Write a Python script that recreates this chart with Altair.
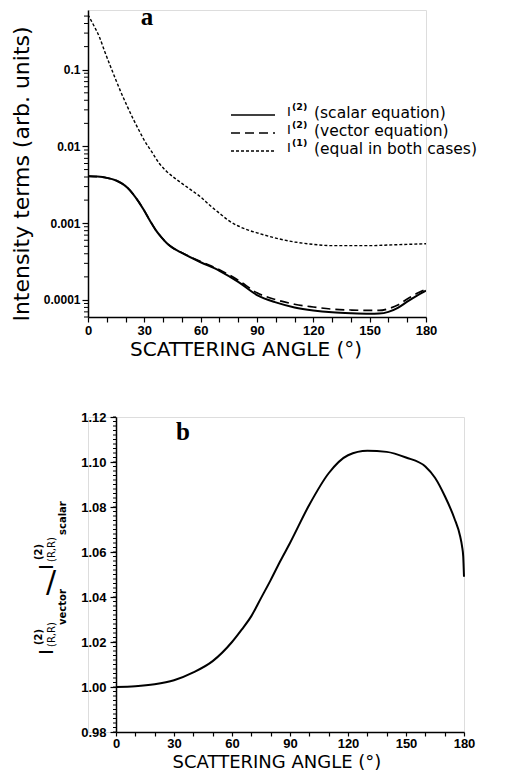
import altair as alt
import pandas as pd

# ---------------- data ----------------
# panel a : I(1) (dotted)
i1_angle = [0, 3, 6, 9, 12, 15, 18, 21, 24, 27, 30, 34, 38, 42, 46, 50, 55, 60, 65, 70,
            75, 80, 85, 90, 100, 110, 120, 130, 140, 150, 160, 170, 180]
i1_val = [0.52, 0.38, 0.27, 0.17, 0.11, 0.072, 0.048, 0.033, 0.023, 0.0165, 0.012, 0.0085,
          0.006, 0.0047, 0.0039, 0.0033, 0.0027, 0.0022, 0.0017, 0.00135, 0.00108, 0.00092,
          0.00082, 0.00075, 0.00064, 0.00057, 0.00053, 0.00051, 0.00051, 0.00051, 0.00052,
          0.00053, 0.00054]

# panel a : I(2) scalar equation (solid)
sc_angle = [0, 5, 10, 15, 18, 21, 24, 27, 30, 33, 36, 39, 42, 45, 50, 60, 70, 80, 90, 100,
            110, 120, 130, 140, 150, 155, 160, 165, 170, 175, 180]
sc_val = [0.0041, 0.00405, 0.0039, 0.0036, 0.0033, 0.0029, 0.0024, 0.0019, 0.00145, 0.00108,
          0.00082, 0.00066, 0.00055, 0.00048, 0.00041, 0.00031, 0.00024, 0.000172, 0.000116,
          0.000093, 0.000080, 0.000073, 0.000069, 0.000067, 0.000066, 0.0000665, 0.000070,
          0.000079, 0.000095, 0.000113, 0.000132]

# panel a : I(2) vector equation (dashed)
vec_angle = [0, 5, 10, 15, 18, 21, 24, 27, 30, 33, 36, 39, 42, 45, 50, 60, 70, 80, 90, 100,
             110, 120, 130, 140, 150, 155, 160, 165, 170, 175, 180]
vec_val = [0.0041, 0.00405, 0.0039, 0.0036, 0.0033, 0.0029, 0.0024, 0.0019, 0.00145, 0.00108,
           0.00082, 0.00066, 0.00055, 0.00048, 0.000412, 0.000316, 0.000248, 0.000181,
           0.000124, 0.000101, 0.000088, 0.000081, 0.000076, 0.000074, 0.000073, 0.000073,
           0.000077, 0.000086, 0.000103, 0.000121, 0.000138]

# panel b : ratio vector / scalar
ratio_angle = [0, 10, 20, 30, 40, 50, 60, 65, 70, 75, 80, 85, 90, 100, 110, 120, 130, 140,
               150, 160, 165, 170, 175, 178, 179, 179.6, 180]
ratio_val = [1.000, 1.0003, 1.0012, 1.003, 1.0065, 1.0115, 1.020, 1.0255, 1.0315, 1.0395,
             1.0475, 1.056, 1.064, 1.081, 1.095, 1.103, 1.105, 1.1045, 1.102, 1.098, 1.093,
             1.085, 1.075, 1.067, 1.0625, 1.058, 1.049]

# axis ticks
x_ticks = [0, 10, 20, 30, 40, 50, 60, 70, 80, 90, 100, 110, 120, 130, 140, 150, 160, 170, 180]
a_major = [0.0001, 0.001, 0.01, 0.1]
a_minor = [m * d for d in [1e-5, 1e-4, 1e-3, 1e-2, 1e-1] for m in range(2, 10)
           if 6e-5 <= m * d <= 0.6]
b_major = [0.98, 1.00, 1.02, 1.04, 1.06, 1.08, 1.10, 1.12]
b_minor = [round(0.98 + 0.002 * k, 3) for k in range(71)]

legend_labels = ["(scalar equation)", "(vector equation)", "(equal in both cases)"]
legend_sup = ["(2)", "(2)", "(1)"]

LABEL_FONT = "Liberation Sans"
TITLE_FONT = "DejaVu Sans"


def one():
    return pd.DataFrame({"k": [0]})


def txt(s, x, y, size, font=TITLE_FONT, weight="normal", align="left",
        baseline="middle", angle=None):
    kw = dict(text=s, font=font, fontSize=size, fontWeight=weight, align=align,
              baseline=baseline, color="black")
    if angle is not None:
        kw["angle"] = angle
    return alt.Chart(one()).mark_text(**kw).encode(x=alt.value(x), y=alt.value(y))


def hrule(x1, x2, y, dash=None, width=1.6):
    kw = dict(color="black", strokeWidth=width)
    if dash is not None:
        kw["strokeDash"] = dash
    return alt.Chart(one()).mark_rule(**kw).encode(
        x=alt.value(x1), x2=alt.value(x2), y=alt.value(y))


axis_common = dict(title=None, grid=False, domainColor="black", domainWidth=1.5,
                   tickColor="black", tickWidth=1.2, labelColor="black",
                   labelFont=LABEL_FONT, labelFontWeight="bold",
                   labelFlush=False, labelOverlap=False)

# ---------------- panel a ----------------
XA = alt.X("angle:Q", scale=alt.Scale(domain=[0, 180], nice=False),
           axis=alt.Axis(values=x_ticks,
                         labelExpr="datum.value % 30 === 0 ? datum.label : ''",
                         tickSize=5, labelPadding=2, labelFontSize=13, **axis_common))
YA = alt.Y("val:Q", scale=alt.Scale(type="log", domain=[6e-5, 0.6], nice=False),
           axis=alt.Axis(values=a_major, format="~g", tickSize=6, labelPadding=2,
                         labelFontSize=12, **axis_common))


def line_a(angles, vals, width, dash=None):
    kw = dict(color="black", strokeWidth=width, interpolate="monotone", clip=True)
    if dash is not None:
        kw["strokeDash"] = dash
    df = pd.DataFrame({"angle": angles, "val": vals})
    return alt.Chart(df).mark_line(**kw).encode(x=XA, y=YA)


a_lines = [
    line_a(i1_angle, i1_val, 1.4, [3, 2]),
    line_a(vec_angle, vec_val, 1.7, [9, 5]),
    line_a(sc_angle, sc_val, 2.0),
]
a_minor_rules = alt.Chart(pd.DataFrame({"val": a_minor})).mark_rule(
    color="black", strokeWidth=1).encode(y=YA, x=alt.value(-4), x2=alt.value(0))

leg_y_line = [105, 123, 141]
leg_y_text = [103, 121, 139]
leg_y_I = [102, 120, 138]
leg_y_sup = [97, 115, 133]
leg_dash = [None, [9, 5], [3, 2]]
legend_layers = []
for i in range(3):
    legend_layers.append(hrule(143, 187, leg_y_line[i], leg_dash[i], 1.6 if i < 2 else 1.3))
    legend_layers.append(txt("I", 199, leg_y_I[i], 13))
    legend_layers.append(txt(legend_sup[i], 204, leg_y_sup[i], 9.5, weight="bold"))
    legend_layers.append(txt(legend_labels[i], 226, leg_y_text[i], 15.5))

a_texts = [
    txt("a", 59, 15, 25, font="Liberation Serif", weight="bold", align="center",
        baseline="alphabetic"),
    txt("Intensity terms (arb. units)", -66, 164, 22, align="center", angle=270),
    txt("SCATTERING ANGLE (°)", 158, 340, 20, align="center"),
]
anchor = alt.Chart(one()).mark_rule(strokeOpacity=0, color="black").encode(
    x=alt.value(-87.5), x2=alt.value(-86.5), y=alt.value(-9.5))

panel_a = alt.layer(*a_lines, a_minor_rules, *legend_layers, *a_texts, anchor).properties(
    width=338, height=307)

# ---------------- panel b ----------------
XB = alt.X("angle:Q", scale=alt.Scale(domain=[0, 180], nice=False, range=[28, 376]),
           axis=alt.Axis(values=x_ticks,
                         labelExpr="datum.value % 30 === 0 ? datum.label : ''",
                         tickSize=4, labelPadding=1, labelFontSize=13, **axis_common))
YB = alt.Y("val:Q", scale=alt.Scale(domain=[0.98, 1.12], nice=False),
           axis=alt.Axis(values=b_major, format=".2f", offset=-28, tickSize=6,
                         labelPadding=4, labelFontSize=13, **axis_common))

b_line = alt.Chart(pd.DataFrame({"angle": ratio_angle, "val": ratio_val})).mark_line(
    color="black", strokeWidth=2, interpolate="monotone").encode(x=XB, y=YB)
b_minor_rules = alt.Chart(pd.DataFrame({"val": b_minor})).mark_rule(
    color="black", strokeWidth=1).encode(y=YB, x=alt.value(25), x2=alt.value(28))

b_texts = [
    txt("b", 95, 23, 25, font="Liberation Serif", weight="bold", align="center",
        baseline="alphabetic"),
    txt("SCATTERING ANGLE (°)", 189, 346, 18, align="center"),
    # y title:  I(2)_(R,R)vector / I(2)_(R,R)scalar
    txt("I", -41, 238, 20, angle=270),
    txt("(2)", -49, 228, 10, weight="bold", angle=270),
    txt("(R,R)", -36, 230, 10, angle=270),
    txt("vector", -25, 208, 10, weight="bold", angle=270),
    txt("/", -37, 166, 30, align="center"),
    txt("I", -41, 153, 20, angle=270),
    txt("(2)", -49, 143, 10, weight="bold", angle=270),
    txt("(R,R)", -36, 145, 10, angle=270),
    txt("scalar", -25, 118, 10, weight="bold", angle=270),
]

panel_b = alt.layer(b_line, b_minor_rules, *b_texts).properties(width=376, height=315)

chart = alt.vconcat(panel_a, panel_b, spacing=100, bounds="flush", padding=0).configure_view(
    strokeWidth=0).configure(background="white")

chart.save("out.html", embed_options={"renderer": "svg", "actions": False})
